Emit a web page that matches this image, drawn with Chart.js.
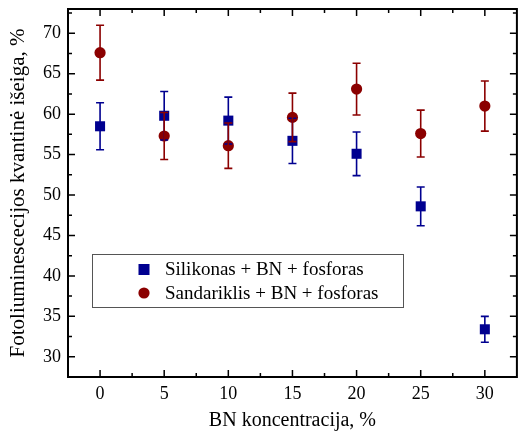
<!DOCTYPE html>
<html>
<head>
<meta charset="utf-8">
<script src="https://cdn.jsdelivr.net/npm/chart.js@4.4.0/dist/chart.umd.min.js"></script>
<style>
  html, body { margin: 0; padding: 0; background: #fff; }
  #wrap { width: 524px; height: 438px; }
</style>
</head>
<body>
<div id="wrap"><canvas id="qyChart" width="524" height="438"></canvas></div>
<script>
// BN concentration, % and quantum yield, % (with error bars)
const concentrations = [0, 5, 10, 15, 20, 25, 30];
const siliconeQY  = [58.5, 59.8, 59.2, 56.7, 55.1, 48.6, 33.4];
const siliconeErr = [2.9, 3.0, 2.9, 2.8, 2.7, 2.4, 1.6];
const sealantQY   = [67.6, 57.3, 56.1, 59.6, 63.1, 57.6, 61.0];
const sealantErr  = [3.4, 2.9, 2.8, 3.0, 3.2, 2.9, 3.1];

const xTicks = [0, 5, 10, 15, 20, 25, 30];
const yTicks = [30, 35, 40, 45, 50, 55, 60, 65, 70];

const BLUE = "#000090";
const RED = "#8b0000";
const FONT = "'Liberation Serif', 'Times New Roman', serif";

function toPoints(xs, ys) {
    return xs.map((x, i) => ({ x: x, y: ys[i] }));
}

// error bars on top of the markers
const errorBars = {
    id: "errorBars",
    afterDatasetsDraw(chart) {
        const ctx = chart.ctx;
        const yScale = chart.scales.y;
        chart.data.datasets.forEach((ds, i) => {
            const meta = chart.getDatasetMeta(i);
            ctx.save();
            ctx.strokeStyle = ds.borderColor;
            ctx.lineWidth = 1.6;
            meta.data.forEach((pt, j) => {
                const v = ds.data[j].y;
                const e = ds.errors[j];
                const top = yScale.getPixelForValue(v + e);
                const bot = yScale.getPixelForValue(v - e);
                const x = pt.x;
                ctx.beginPath();
                ctx.moveTo(x, top);
                ctx.lineTo(x, bot);
                ctx.moveTo(x - 4, top);
                ctx.lineTo(x + 4, top);
                ctx.moveTo(x - 4, bot);
                ctx.lineTo(x + 4, bot);
                ctx.stroke();
            });
            ctx.restore();
        });
    }
};

// box frame with inward ticks on all four sides
const frameTicks = {
    id: "frameTicks",
    afterDraw(chart) {
        const ctx = chart.ctx;
        const a = chart.chartArea;
        const xs = chart.scales.x;
        const ys = chart.scales.y;
        ctx.save();
        ctx.strokeStyle = "#000";
        ctx.lineWidth = 1.5;
        ctx.beginPath();
        xTicks.forEach(v => {
            const px = xs.getPixelForValue(v);
            ctx.moveTo(px, a.bottom); ctx.lineTo(px, a.bottom - 7);
            ctx.moveTo(px, a.top); ctx.lineTo(px, a.top + 7);
            const m = xs.getPixelForValue(v + 2.5);
            if (m < a.right - 2) {
                ctx.moveTo(m, a.bottom); ctx.lineTo(m, a.bottom - 4);
                ctx.moveTo(m, a.top); ctx.lineTo(m, a.top + 4);
            }
        });
        yTicks.forEach(v => {
            const py = ys.getPixelForValue(v);
            ctx.moveTo(a.left, py); ctx.lineTo(a.left + 7, py);
            ctx.moveTo(a.right, py); ctx.lineTo(a.right - 7, py);
            const m = ys.getPixelForValue(v + 2.5);
            if (m > a.top + 2) {
                ctx.moveTo(a.left, m); ctx.lineTo(a.left + 4, m);
                ctx.moveTo(a.right, m); ctx.lineTo(a.right - 4, m);
            }
        });
        ctx.stroke();
        ctx.lineWidth = 2;
        ctx.strokeRect(a.left, a.top, a.right - a.left, a.bottom - a.top);
        ctx.restore();
    }
};

// legend box placed inside the plot
const insideLegend = {
    id: "insideLegend",
    afterDraw(chart) {
        const ctx = chart.ctx;
        const boxX = 92, boxY = 254, boxW = 311, boxH = 53;
        ctx.save();
        ctx.fillStyle = "#fff";
        ctx.fillRect(boxX, boxY, boxW, boxH);
        ctx.strokeStyle = "#555";
        ctx.lineWidth = 1;
        ctx.strokeRect(boxX + 0.5, boxY + 0.5, boxW, boxH);
        ctx.font = "19px " + FONT;
        ctx.textBaseline = "middle";
        chart.data.datasets.forEach((ds, i) => {
            const cy = boxY + 15.5 + i * 23.5;
            ctx.fillStyle = ds.backgroundColor;
            if (ds.pointStyle === "rect") {
                ctx.fillRect(138.5, cy - 5.5, 11, 11);
            } else {
                ctx.beginPath();
                ctx.arc(144, cy, 5.6, 0, Math.PI * 2);
                ctx.fill();
            }
            ctx.fillStyle = "#000";
            ctx.fillText(ds.label, 165, cy + 1);
        });
        ctx.restore();
    }
};

const ctx = document.getElementById("qyChart").getContext("2d");
new Chart(ctx, {
    type: "scatter",
    data: {
        datasets: [{
            label: "Silikonas + BN + fosforas",
            data: toPoints(concentrations, siliconeQY),
            errors: siliconeErr,
            pointStyle: "rect",
            pointRadius: 7.1,
            backgroundColor: BLUE,
            borderColor: BLUE,
            borderWidth: 0
        }, {
            label: "Sandariklis + BN + fosforas",
            data: toPoints(concentrations, sealantQY),
            errors: sealantErr,
            pointStyle: "circle",
            pointRadius: 5.6,
            backgroundColor: RED,
            borderColor: RED,
            borderWidth: 0
        }]
    },
    options: {
        responsive: false,
        animation: false,
        devicePixelRatio: 1,
        layout: { padding: { left: 0, right: 6, top: 9, bottom: 0 } },
        plugins: {
            legend: { display: false },
            tooltip: { enabled: false }
        },
        scales: {
            x: {
                type: "linear",
                min: -2.5,
                max: 32.5,
                grid: { display: false, drawTicks: false },
                border: { display: false },
                afterBuildTicks: s => { s.ticks = xTicks.map(v => ({ value: v })); },
                afterFit: s => { s.height = 61; s.paddingLeft = 0; s.paddingRight = 0; },
                ticks: {
                    color: "#000",
                    padding: 6,
                    maxRotation: 0,
                    font: { family: FONT, size: 18 }
                },
                title: {
                    display: true,
                    text: "BN koncentracija, %",
                    color: "#000",
                    padding: { top: 0, bottom: 5 },
                    font: { family: FONT, size: 20 }
                }
            },
            y: {
                min: 27.5,
                max: 73,
                grid: { display: false, drawTicks: false },
                border: { display: false },
                afterBuildTicks: s => { s.ticks = yTicks.map(v => ({ value: v })); },
                afterFit: s => { s.width = 68; s.paddingTop = 0; s.paddingBottom = 0; },
                ticks: {
                    color: "#000",
                    padding: 7,
                    font: { family: FONT, size: 18 }
                },
                title: {
                    display: true,
                    text: "Fotoliuminescecijos kvantinė išeiga, %",
                    color: "#000",
                    padding: { top: 6, bottom: 0 },
                    font: { family: FONT, size: 21 }
                }
            }
        }
    },
    plugins: [errorBars, frameTicks, insideLegend]
});
</script>
</body>
</html>
